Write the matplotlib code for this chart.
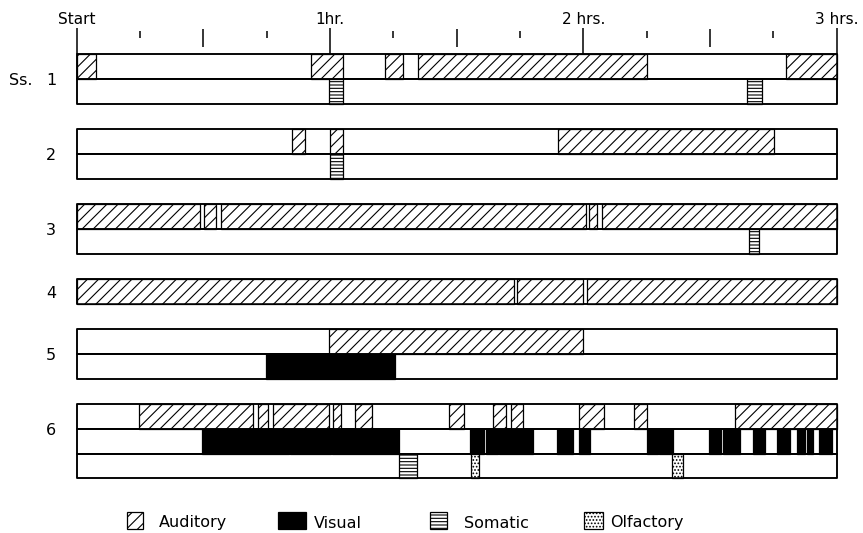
import numpy as np
import matplotlib
matplotlib.use("Agg")
import matplotlib.pyplot as plt
from matplotlib.patches import Rectangle

plt.rcParams['hatch.linewidth'] = 0.8
plt.rcParams['font.family'] = 'DejaVu Sans'

# Top time scale (minutes)
TIME_LABELS = {0: "Start", 60: "1hr.", 120: "2 hrs.", 180: "3 hrs."}
TICK_MINUTES = np.arange(0, 181, 15)
SESSION_END = 180

# Stimulation periods, (start, end) in minutes
S1_AUDITORY = [(0, 4.6), (55.5, 63.2), (73.1, 77.4), (80.9, 135.2), (168, 180)]
S1_SOMATIC = [(59.9, 63.2), (158.8, 162.3)]

S2_AUDITORY = [(51.0, 54.1), (60.0, 63.2), (113.9, 165.2)]
S2_SOMATIC = [(60.0, 63.2)]

S3_AUDITORY = [(0, 29.2), (30.2, 33.0), (34.1, 120.6), (121.4, 123.3), (124.4, 180)]
S3_SOMATIC = [(159.3, 161.7)]

S4_AUDITORY = [(0, 103.5), (104.4, 120.0), (120.8, 180)]

S5_AUDITORY = [(59.9, 120.0)]
S5_VISUAL = [(44.9, 75.3)]

S6_AUDITORY = [(14.9, 41.9), (43.0, 45.4), (46.5, 59.9), (60.7, 62.6), (65.9, 70.0),
               (88.3, 91.8), (98.7, 101.7), (102.8, 105.8), (119.1, 124.9),
               (132.0, 135.0), (156.0, 180)]
S6_VISUAL = [(29.6, 50.3), (50.6, 60.3), (60.6, 76.4), (93.2, 96.6), (96.9, 99.8),
             (100.1, 108.2), (113.7, 117.5), (119.1, 121.6), (135.0, 137.6),
             (138.0, 141.3), (149.8, 152.6), (153.0, 157.1), (160.3, 163.1),
             (165.9, 168.9), (170.5, 172.5), (172.9, 174.5), (175.7, 178.8)]
S6_SOMATIC = [(76.4, 80.6)]
S6_OLFACTORY = [(93.3, 95.4), (141.1, 143.5)]

# each subject: list of rows, each row a list of (modality, periods)
SUBJECTS = [
    ("1", [[("auditory", S1_AUDITORY)], [("somatic", S1_SOMATIC)]]),
    ("2", [[("auditory", S2_AUDITORY)], [("somatic", S2_SOMATIC)]]),
    ("3", [[("auditory", S3_AUDITORY)], [("somatic", S3_SOMATIC)]]),
    ("4", [[("auditory", S4_AUDITORY)]]),
    ("5", [[("auditory", S5_AUDITORY)], [("visual", S5_VISUAL)]]),
    ("6", [[("auditory", S6_AUDITORY)], [("visual", S6_VISUAL)],
           [("somatic", S6_SOMATIC), ("olfactory", S6_OLFACTORY)]]),
]

LEGEND_LABELS = ["Auditory", "Visual", "Somatic", "Olfactory"]

STYLE = {
    "auditory": dict(facecolor="white", hatch="///"),
    "visual": dict(facecolor="black"),
    "somatic": dict(facecolor="white", hatch="-----"),
    "olfactory": dict(facecolor="white", hatch="....."),
}

W, H = 863, 533
X0, PX_PER_MIN = 76.5, 4.2233   # pixel of "Start", pixels per minute
Y0, PX_PER_ROW = 54.3, 24.95    # pixel of first bar top, row height

fig = plt.figure(figsize=(W / 100, H / 100), dpi=100)
fig.patch.set_facecolor("white")

ax = fig.add_axes([0, 0, 1, 1])
ax.set_xlim(-X0 / PX_PER_MIN, (W - X0) / PX_PER_MIN)
ax.set_ylim((H - Y0) / PX_PER_ROW, -Y0 / PX_PER_ROW)
ax.axis("off")

# time scale ticks and labels
for m in TICK_MINUTES:
    if m % 60 == 0:
        y_top, y_bot = -1.06, 0
    elif m % 30 == 0:
        y_top, y_bot = -1.0, -0.3
    else:
        y_top, y_bot = -0.94, -0.64
    ax.vlines(m, y_top, y_bot, color="black", lw=1.1)
for m, lab in TIME_LABELS.items():
    ax.text(m, -1.2, lab, ha="center", va="baseline", fontsize=11)

lw_box = 1.1
y = 0
for name, rows in SUBJECTS:
    n = len(rows)
    for i, row in enumerate(rows):
        ax.broken_barh([(0, SESSION_END)], (y + i, 1), facecolor="white",
                       edgecolor="black", lw=lw_box, zorder=1)
        for modality, periods in row:
            ax.broken_barh([(s, e - s) for s, e in periods], (y + i, 1),
                           edgecolor="black", lw=0.9, zorder=2, **STYLE[modality])
        ax.broken_barh([(0, SESSION_END)], (y + i, 1), facecolor="none",
                       edgecolor="black", lw=lw_box, zorder=3)
    label_y = y + (1 if n > 1 else 0.5) + 0.07
    ax.text(-6.0, label_y, name, ha="center", va="center", fontsize=11.5)
    if name == "1":
        ax.text(-10.5, label_y, "Ss.", ha="right", va="center", fontsize=11.5)
    y += n + 1

# legend, drawn in pixel coordinates
lax = fig.add_axes([0, 0, 1, 1], zorder=-1)
lax.set_xlim(0, W)
lax.set_ylim(H, 0)
lax.axis("off")
patch_x = [127, 278, 430, 584]
patch_w = [16, 28, 17, 19]
text_x = [159, 314, 464, 610]
for lab, px, pw, tx in zip(LEGEND_LABELS, patch_x, patch_w, text_x):
    lax.add_patch(Rectangle((px, 512), pw, 16.5, edgecolor="black", lw=0.9,
                            **STYLE[lab.lower()]))
    lax.text(tx, 527.5, lab, ha="left", va="baseline", fontsize=11.5)

fig.savefig("out.png", dpi=100, facecolor="white")
